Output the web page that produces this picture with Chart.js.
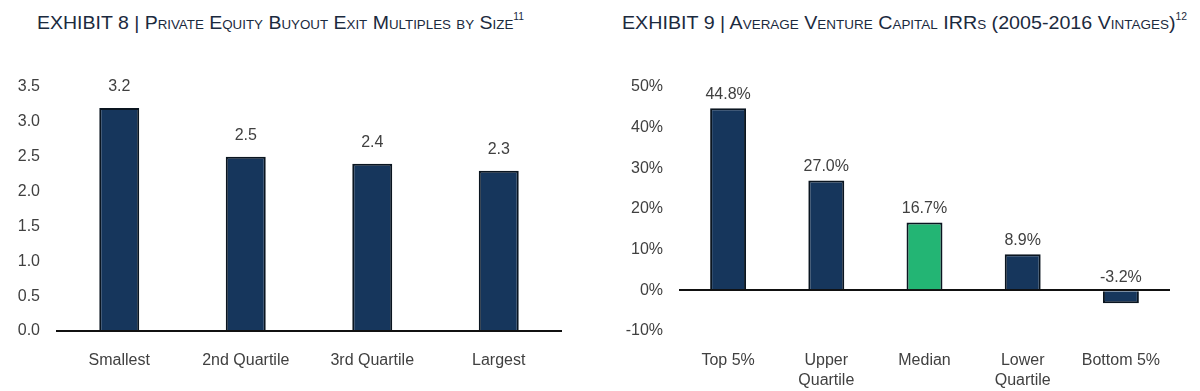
<!DOCTYPE html>
<html>
<head>
<meta charset="utf-8">
<script src="https://cdn.jsdelivr.net/npm/chart.js@4.4.1/dist/chart.umd.min.js"></script>
<style>
  html, body { margin: 0; padding: 0; background: #fff; }
  body { width: 1200px; height: 391px; position: relative; overflow: hidden; }
  .ttl {
    position: absolute; top: 12px; white-space: nowrap; transform-origin: 0 50%;
    font-family: "Liberation Sans", Arial, sans-serif;
    font-size: 19px; color: #1b2a3e; font-variant: small-caps;
  }
  .ttl sup { font-size: 10px; font-variant: normal; position: relative; top: -2px; }
  .box { position: absolute; top: 45px; width: 600px; height: 346px; }
</style>
</head>
<body>
<div class="ttl" id="t8" style="left:37px">EXHIBIT 8 | Private Equity Buyout Exit Multiples by Size<sup>11</sup></div>
<div class="ttl" id="t9" style="left:622px">EXHIBIT 9 | Average Venture Capital IRRs (2005-2016 Vintages)<sup>12</sup></div>
<div class="box" style="left:0"><canvas id="c8"></canvas></div>
<div class="box" style="left:600px"><canvas id="c9"></canvas></div>
<script>
// ---- data ----
const sizeCats = ['Smallest', '2nd Quartile', '3rd Quartile', 'Largest'];
const exitMultiples = [3.2, 2.5, 2.4, 2.3];
const multipleTicks = [0, 0.5, 1.0, 1.5, 2.0, 2.5, 3.0, 3.5];

const vcCats = ['Top 5%', ['Upper', 'Quartile'], 'Median', ['Lower', 'Quartile'], 'Bottom 5%'];
const vcIRR = [44.8, 27.0, 16.7, 8.9, -3.2];
const irrTicks = [-10, 0, 10, 20, 30, 40, 50];

const NAVY = '#16365c';
const GREEN = '#23b574';
const EDGE = '#0a1520';

// fit the titles to the width they take in the original
[['t8', 487], ['t9', 565]].forEach(([id, w]) => {
  const el = document.getElementById(id);
  const nat = el.getBoundingClientRect().width;
  el.style.transform = 'scaleX(' + (w / nat).toFixed(4) + ')';
});

Chart.defaults.font.family = '"Liberation Sans", Arial, sans-serif';
Chart.defaults.font.size = 16;
Chart.defaults.color = '#404040';

// value labels above bars (negative ones sit above the zero line)
const barLabels = {
  id: 'barLabels',
  afterDatasetsDraw(chart, args, opts) {
    const { ctx } = chart;
    const meta = chart.getDatasetMeta(0);
    const vals = chart.data.datasets[0].data;
    ctx.save();
    ctx.font = '16px "Liberation Sans", Arial, sans-serif';
    ctx.fillStyle = '#404040';
    ctx.textAlign = 'center';
    ctx.textBaseline = 'middle';
    meta.data.forEach((bar, i) => {
      const top = Math.min(bar.y, bar.base);
      ctx.fillText(opts.fmt(vals[i]), bar.x, top - opts.gap);
    });
    ctx.restore();
  }
};

function makeChart(id, cats, vals, colors, ticks, fmtTick, fmtLabel, yWidth, padRight, barPct, gap) {
  return new Chart(document.getElementById(id), {
    type: 'bar',
    data: {
      labels: cats,
      datasets: [{
        data: vals,
        backgroundColor: colors,
        borderColor: EDGE,
        borderWidth: 2,
        barPercentage: barPct,
        categoryPercentage: 1
      }]
    },
    options: {
      responsive: true,
      maintainAspectRatio: false,
      animation: false,
      layout: { padding: { top: 42, right: padRight, left: 0, bottom: 0 } },
      plugins: {
        legend: { display: false },
        tooltip: { enabled: false },
        barLabels: { fmt: fmtLabel, gap: gap }
      },
      scales: {
        x: {
          grid: { display: false },
          border: { display: false },
          ticks: { padding: 12, font: { size: 16, lineHeight: 1.25 } },
          afterFit: s => { s.height = 60; }
        },
        y: {
          min: ticks[0],
          max: ticks[ticks.length - 1],
          afterBuildTicks: s => { s.ticks = ticks.map(v => ({ value: v })); },
          border: { display: false },
          grid: {
            drawTicks: false,
            lineWidth: 2,
            color: c => (c.tick && c.tick.value === 0 ? '#111' : 'rgba(0,0,0,0)')
          },
          ticks: { padding: 16, callback: fmtTick },
          afterFit: s => { s.width = yWidth; }
        }
      }
    },
    plugins: [barLabels]
  });
}

makeChart('c8', sizeCats, exitMultiples, sizeCats.map(() => NAVY), multipleTicks,
  v => v.toFixed(1), v => v.toFixed(1), 56, 38, 0.316, 21);

makeChart('c9', vcCats, vcIRR, vcCats.map((c, i) => (i === 2 ? GREEN : NAVY)), irrTicks,
  v => v + '%', v => v.toFixed(1) + '%', 79, 30, 0.366, 14);
</script>
</body>
</html>
